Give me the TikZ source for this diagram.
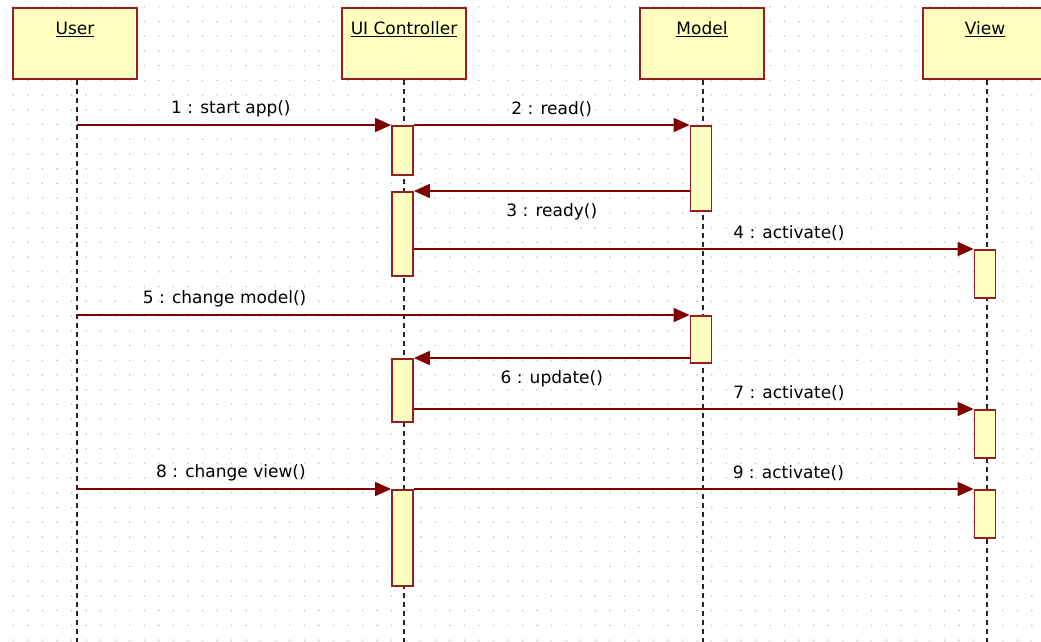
\documentclass[tikz,border=0pt]{standalone}
\usepackage{fontspec}
\setmainfont{DejaVu Sans}
\usetikzlibrary{arrows.meta}
\definecolor{umlred}{RGB}{128,0,0}
\definecolor{boxred}{RGB}{150,30,30}
\definecolor{umlfill}{RGB}{255,255,192}
\definecolor{dotgray}{RGB}{185,185,185}
\begin{document}
\begin{tikzpicture}[x=1pt,y=-1pt,
  head/.style={draw=boxred, line width=1.8pt, fill=umlfill, minimum width=124pt, minimum height=71pt,
    inner sep=0pt, text height=12pt, text depth=29pt, font=\fontsize{17}{20}\selectfont},
  act/.style={draw=boxred, line width=1.8pt, fill=umlfill, minimum width=21pt, inner sep=0pt, anchor=north},
  life/.style={line width=1.8pt, dash pattern=on 5pt off 4pt, black!85},
  msg/.style={draw=umlred, line width=1.6pt, -{Triangle[length=16pt,width=14pt]}},
  lbl/.style={font=\fontsize{17}{20}\selectfont, text=black, inner sep=0pt}
]
\useasboundingbox[fill=white] (0,0) rectangle (1041,642);
% dot grid
\foreach \i in {0,...,70}
  \foreach \j in {0,...,43}
    \fill[dotgray] (13.35+14.55*\i, 6.7+14.73*\j) circle (0.8pt);

% heads
\node[head] (user)  at (75,43.5)   {\underline{User}};
\node[head] (ui)    at (404,43.5)  {\underline{UI Controller}};
\node[head] (model) at (702,43.5)  {\underline{Model}};
\node[head] (view)  at (985,43.5)  {\underline{View}};

% lifeline anchors
\coordinate (uL) at ([xshift=2pt]user.south);
\coordinate (cL) at (ui.south);
\coordinate (mL) at ([xshift=1pt]model.south);
\coordinate (vL) at ([xshift=2pt]view.south);
\coordinate (uE) at (uL |- 0,642);
\coordinate (cE) at (cL |- 0,642);
\coordinate (mE) at (mL |- 0,642);
\coordinate (vE) at (vL |- 0,642);
\draw[life] (uL) -- (uE);
\draw[life] (cL) -- (cE);
\draw[life] (mL) -- (mE);
\draw[life] (vL) -- (vE);

% activations
\node[act, minimum height=49pt] (a1) at (402.5,125) {};
\node[act, minimum height=84pt] (a2) at (402.5,191) {};
\node[act, minimum height=63pt] (a3) at (402.5,358) {};
\node[act, minimum height=96pt] (a4) at (402.5,489) {};
\node[act, minimum height=85pt] (m1) at (701,125) {};
\node[act, minimum height=47pt] (m2) at (701,315) {};
\node[act, minimum height=48pt] (v1) at (985,249) {};
\node[act, minimum height=48pt] (v2) at (985,409) {};
\node[act, minimum height=48pt] (v3) at (985,489) {};

% messages
\draw[msg] (uL |- a1.north) -- node[lbl, pos=0.49, yshift=16pt] {1 : start app()} (a1.north west);
\draw[msg] (a1.north east) -- node[lbl, midway, yshift=16pt] {2 : read()} (m1.north west);
\draw[msg] (m1.west |- a2.north) -- node[lbl, midway, yshift=-21pt] {3 : ready()} (a2.north east);
\draw[msg] (a2.east |- v1.north) -- node[lbl, pos=0.67, yshift=16pt] {4 : activate()} (v1.north west);
\draw[msg] (uL |- m2.north) -- node[lbl, pos=0.241, yshift=16pt] {5 : change model()} (m2.north west);
\draw[msg] (m2.west |- a3.north) -- node[lbl, midway, yshift=-21pt] {6 : update()} (a3.north east);
\draw[msg] (a3.east |- v2.north) -- node[lbl, pos=0.67, yshift=16pt] {7 : activate()} (v2.north west);
\draw[msg] (uL |- a4.north) -- node[lbl, pos=0.49, yshift=16pt] {8 : change view()} (a4.north west);
\draw[msg] (a4.north east) -- node[lbl, pos=0.669, yshift=16pt] {9 : activate()} (v3.north west);
\end{tikzpicture}
\end{document}
